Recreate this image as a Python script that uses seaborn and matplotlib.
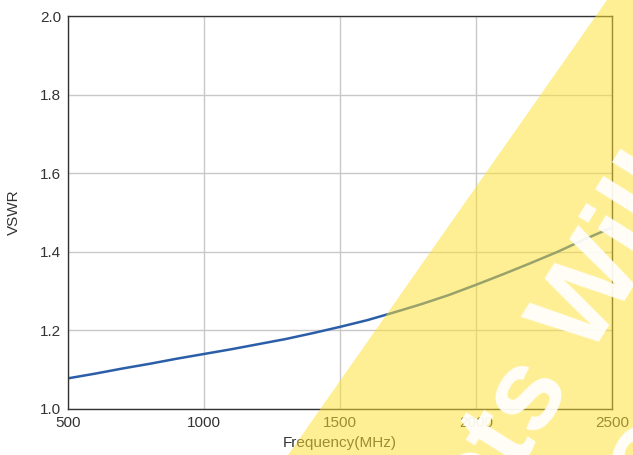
import pandas as pd
import matplotlib.pyplot as plt
from matplotlib.patches import Polygon
import seaborn as sns

# ====================================================
# DATA
# ====================================================
freq_mhz = [500, 600, 700, 800, 900, 1000, 1100, 1200, 1300, 1400, 1500,
            1600, 1700, 1800, 1900, 2000, 2100, 2200, 2300, 2400, 2500]
vswr = [1.078, 1.090, 1.103, 1.115, 1.128, 1.140, 1.152, 1.165, 1.178, 1.193, 1.209,
        1.226, 1.246, 1.267, 1.290, 1.316, 1.343, 1.371, 1.400, 1.432, 1.462]
x_ticks = [500, 1000, 1500, 2000, 2500]
y_ticks = [1.0, 1.2, 1.4, 1.6, 1.8, 2.0]

df = pd.DataFrame({"Frequency": freq_mhz, "VSWR": vswr})

# ====================================================
# STYLE
# ====================================================
sns.set_style("white")
plt.rcParams["font.family"] = ["Liberation Sans", "DejaVu Sans"]

fig = plt.figure(figsize=(6.33, 4.55), dpi=100)
ax = fig.add_axes([68 / 633, 46 / 455, 544 / 633, 393 / 455])

sns.lineplot(data=df, x="Frequency", y="VSWR", ax=ax, color="#2b5ea8", linewidth=1.8)

ax.set_xlim(500, 2500)
ax.set_ylim(1.0, 2.0)
ax.set_xticks(x_ticks)
ax.set_yticks(y_ticks)
ax.set_yticklabels([f"{v:.1f}" for v in y_ticks])
ax.grid(True, color="#c8c8c8", linewidth=1.0)
ax.tick_params(length=0, labelsize=11, labelcolor="#333333", pad=5)
for s in ax.spines.values():
    s.set_color("#333333")
    s.set_linewidth(1.0)

ax.set_xlabel("Frequency(MHz)", fontsize=11, color="#333333", labelpad=4)
ax.set_ylabel("VSWR", fontsize=11, color="#333333", labelpad=14)

# ====================================================
# WATERMARK (yellow band + white text on top)
# ====================================================
band = Polygon([(288 / 633, 0), (607 / 633, 1), (1, 1), (1, 0)], closed=True,
               transform=fig.transFigure, facecolor="#ffe132", alpha=0.52,
               edgecolor="none", zorder=10)
fig.add_artist(band)

fig.text(0.485, -0.780, "Products Will", transform=fig.transFigure,
         rotation=58, rotation_mode="anchor", ha="left", va="baseline",
         fontsize=83, fontweight="bold", color="white", alpha=0.92, zorder=11)
fig.text(0.699, -0.847, "be discontinued", transform=fig.transFigure,
         rotation=58, rotation_mode="anchor", ha="left", va="baseline",
         fontsize=83, fontweight="bold", color="white", alpha=0.92, zorder=11)

fig.savefig("out.png", dpi=100)
